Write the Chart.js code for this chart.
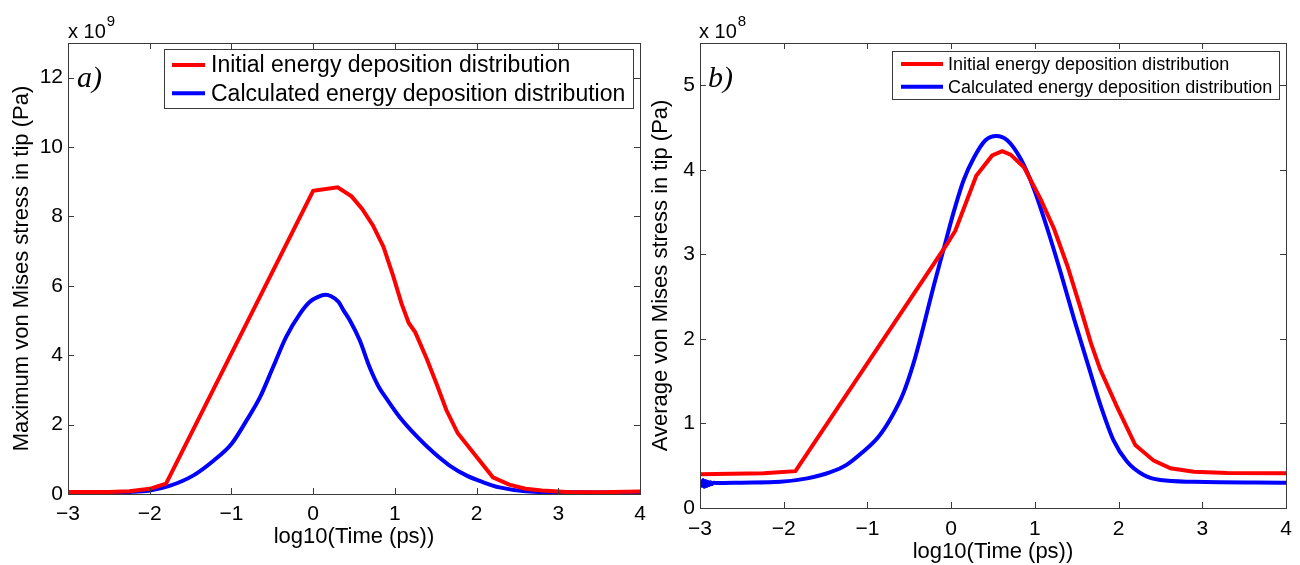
<!DOCTYPE html>
<html><head><meta charset="utf-8">
<script src="https://cdn.jsdelivr.net/npm/chart.js@4.4.0/dist/chart.umd.min.js"></script>
<style>
html,body{margin:0;padding:0;background:#fff;}
#wrap{position:relative;width:1300px;height:565px;overflow:hidden;background:#fff;}
canvas{position:absolute;top:0;}
#c1{left:0;} #c2{left:650px;}
</style></head><body>
<div id="wrap">
<canvas id="c1" width="650" height="565"></canvas>
<canvas id="c2" width="650" height="565"></canvas>
</div>
<script>
// ---- data (panel a: units of 1e9 Pa, panel b: units of 1e8 Pa) ----
const xTickValues = [-3, -2, -1, 0, 1, 2, 3, 4];
const yTicksA = [0, 2, 4, 6, 8, 10, 12];
const yTicksB = [0, 1, 2, 3, 4, 5];
const seriesLabels = ['Initial energy deposition distribution', 'Calculated energy deposition distribution'];

const aInitX = [-3, -2.5, -2.25, -2.0, -1.8, 0.0, 0.3, 0.47, 0.6, 0.73, 0.86, 0.98, 1.08, 1.17, 1.25, 1.39, 1.51, 1.63, 1.77, 2.2, 2.4, 2.6, 2.8, 3.1, 3.5, 4];
const aInitY = [0.06, 0.06, 0.08, 0.15, 0.3, 8.74, 8.84, 8.58, 8.22, 7.75, 7.13, 6.28, 5.5, 4.93, 4.66, 3.9, 3.18, 2.42, 1.75, 0.48, 0.27, 0.15, 0.1, 0.06, 0.05, 0.07];

const aCalcX = [-3, -2.5, -2.25, -2.0, -1.75, -1.47, -1.22, -1.0, -0.82, -0.65, -0.49, -0.33, -0.16, -0.04, 0.06, 0.15, 0.22, 0.31, 0.37, 0.45, 0.57, 0.69, 0.8, 0.9, 1.06, 1.26, 1.47, 1.67, 1.88, 2.08, 2.28, 2.6, 3.1, 4];
const aCalcY = [0.05, 0.05, 0.06, 0.1, 0.24, 0.53, 0.96, 1.44, 2.1, 2.79, 3.66, 4.53, 5.2, 5.54, 5.68, 5.74, 5.7, 5.54, 5.3, 5.0, 4.43, 3.66, 3.1, 2.74, 2.21, 1.68, 1.2, 0.82, 0.53, 0.34, 0.19, 0.08, 0.05, 0.04];

const bInitX = [-3, -2.24, -1.86, -0.05, 0.05, 0.3, 0.49, 0.61, 0.71, 0.87, 1.07, 1.23, 1.39, 1.55, 1.67, 1.78, 1.98, 2.2, 2.42, 2.62, 2.9, 3.3, 4];
const bInitY = [0.40, 0.41, 0.436, 3.12, 3.28, 3.93, 4.17, 4.22, 4.18, 4.03, 3.65, 3.3, 2.86, 2.35, 1.95, 1.64, 1.2, 0.745, 0.56, 0.47, 0.43, 0.415, 0.41];

const bCalcX = [-2.98, -2.965, -2.95, -2.935, -2.92, -2.905, -2.89, -2.875, -2.86, -2.84, -2.8, -2.5, -2.04, -1.72, -1.45, -1.25, -1.07, -0.87, -0.71, -0.57, -0.45, -0.33, -0.21, -0.09, 0.03, 0.15, 0.27, 0.41, 0.54, 0.67, 0.83, 0.99, 1.15, 1.31, 1.47, 1.63, 1.79, 1.94, 2.1, 2.3, 2.5, 2.9, 4];
const bCalcY = [0.24, 0.33, 0.25, 0.32, 0.26, 0.31, 0.27, 0.305, 0.28, 0.30, 0.295, 0.30, 0.31, 0.35, 0.42, 0.51, 0.65, 0.84, 1.08, 1.36, 1.71, 2.15, 2.62, 3.06, 3.5, 3.88, 4.14, 4.35, 4.40, 4.35, 4.13, 3.77, 3.3, 2.78, 2.23, 1.71, 1.2, 0.8, 0.55, 0.39, 0.33, 0.31, 0.30];

const FONT = '"Liberation Sans", Arial, Helvetica, sans-serif';
const AXIS_COLOR = '#3a3a3a';

function pts(xs, ys) { return xs.map((x, i) => ({x: x, y: ys[i]})); }
function fmt(v) { return v < 0 ? '\u2212' + Math.abs(v) : String(v); }

const matlabAxes = {
  id: 'matlabAxes',
  afterDatasetsDraw(chart, args, o) {
    const ctx = chart.ctx;
    const {left, right, top, bottom} = chart.chartArea;
    const xs = chart.scales.x, ys = chart.scales.y;
    ctx.save();
    // legend
    const L = o.legend;
    ctx.fillStyle = '#fff';
    ctx.fillRect(L.x, L.y, L.w, L.h);
    ctx.strokeStyle = AXIS_COLOR; ctx.lineWidth = 1;
    ctx.strokeRect(L.x + 0.5, L.y + 0.5, L.w, L.h);
    ctx.font = L.font + 'px ' + FONT;
    ctx.textBaseline = 'middle'; ctx.textAlign = 'left';
    chart.data.datasets.forEach((ds, i) => {
      const yy = L.rows[i];
      ctx.strokeStyle = ds.borderColor; ctx.lineWidth = 4;
      ctx.beginPath(); ctx.moveTo(L.lx0, yy); ctx.lineTo(L.lx1, yy); ctx.stroke();
      ctx.fillStyle = '#000';
      ctx.fillText(ds.label, L.tx, yy + 1);
    });
    // ticks (inward, all four sides)
    ctx.strokeStyle = AXIS_COLOR; ctx.lineWidth = 1;
    ctx.beginPath();
    const tl = 6;
    xs.ticks.forEach(t => {
      const p = Math.round(xs.getPixelForValue(t.value)) + 0.5;
      ctx.moveTo(p, bottom); ctx.lineTo(p, bottom - tl);
      ctx.moveTo(p, top); ctx.lineTo(p, top + tl);
    });
    ys.ticks.forEach(t => {
      const p = Math.round(ys.getPixelForValue(t.value)) + 0.5;
      ctx.moveTo(left, p); ctx.lineTo(left + tl, p);
      ctx.moveTo(right, p); ctx.lineTo(right - tl, p);
    });
    ctx.stroke();
    ctx.strokeRect(Math.round(left) + 0.5, Math.round(top) + 0.5, Math.round(right - left), Math.round(bottom - top));
    // exponent label
    ctx.fillStyle = '#000';
    ctx.textBaseline = 'alphabetic'; ctx.textAlign = 'left';
    ctx.font = '20px ' + FONT;
    ctx.fillText('x 10', o.exp.x, o.exp.y);
    const w = ctx.measureText('x 10').width;
    ctx.font = '15px ' + FONT;
    ctx.fillText(o.exp.pow, o.exp.x + w + 1, o.exp.y - 12);
    // panel label
    ctx.font = 'italic 30px "Liberation Serif", "DejaVu Serif", serif';
    ctx.fillText(o.panel.text, o.panel.x, o.panel.y);
    ctx.restore();
  }
};

function makeChart(id, c) {
  return new Chart(document.getElementById(id), {
    type: 'line',
    data: {datasets: [
      {label: seriesLabels[0], data: c.init, borderColor: '#ff0000', borderWidth: 4, pointRadius: 0, tension: 0, fill: false},
      {label: seriesLabels[1], data: c.calc, borderColor: '#0000ff', borderWidth: 4, pointRadius: 0, cubicInterpolationMode: 'monotone', fill: false}
    ]},
    options: {
      responsive: false, animation: false, devicePixelRatio: 1,
      layout: {padding: {top: 43, right: c.padRight, left: 0, bottom: 0}},
      plugins: {legend: {display: false}, tooltip: {enabled: false}, matlabAxes: c.deco},
      scales: {
        x: {
          type: 'linear', min: -3, max: 4,
          grid: {display: false, drawTicks: false, tickLength: 0}, border: {display: false},
          afterBuildTicks: s => { s.ticks = xTickValues.map(v => ({value: v})); },
          afterFit: s => { s.height = c.xH; s.paddingLeft = 0; s.paddingRight = 0; },
          ticks: {font: {family: FONT, size: 21}, color: '#000', padding: c.xTickPad, maxRotation: 0, autoSkip: false, callback: v => fmt(v)},
          title: {display: true, text: 'log10(Time (ps))', color: '#000', font: {family: FONT, size: 22, lineHeight: 1}, padding: {top: 0, bottom: c.xTitlePad}}
        },
        y: {
          type: 'linear', min: 0, max: c.yMax,
          grid: {display: false, drawTicks: false, tickLength: 0}, border: {display: false},
          afterBuildTicks: s => { s.ticks = c.yTicks.map(v => ({value: v})); },
          afterFit: s => { s.width = c.yW; s.paddingTop = 0; s.paddingBottom = 0; },
          ticks: {font: {family: FONT, size: 21}, color: '#000', padding: 5, autoSkip: false, callback: v => fmt(v)},
          title: {display: true, text: c.yTitle, color: '#000', font: {family: FONT, size: 22, lineHeight: 1}, padding: {top: c.yTitlePad, bottom: 0}}
        }
      }
    },
    plugins: [matlabAxes]
  });
}

makeChart('c1', {
  init: pts(aInitX, aInitY), calc: pts(aCalcX, aCalcY),
  padRight: 10, xH: 71, yW: 68, yMax: 13, yTicks: yTicksA,
  xTickPad: 8, xTitlePad: 17, yTitlePad: 11,
  yTitle: 'Maximum von Mises stress in tip (Pa)',
  deco: {
    legend: {x: 164, y: 49, w: 469, h: 59, rows: [65, 93.3], lx0: 172, lx1: 205, tx: 211, font: 23},
    exp: {x: 68, y: 38, pow: '9'},
    panel: {text: 'a)', x: 77, y: 87}
  }
});

makeChart('c2', {
  init: pts(bInitX, bInitY), calc: pts(bCalcX, bCalcY),
  padRight: 14, xH: 57, yW: 50, yMax: 5.5, yTicks: yTicksB,
  xTickPad: 9, xTitlePad: 2, yTitlePad: 0,
  yTitle: 'Average von Mises stress in tip (Pa)',
  deco: {
    legend: {x: 242, y: 51, w: 387, h: 48, rows: [64, 86.7], lx0: 251, lx1: 293, tx: 298, font: 18},
    exp: {x: 49, y: 38, pow: '8'},
    panel: {text: 'b)', x: 58, y: 87}
  }
});
</script>
</body></html>
